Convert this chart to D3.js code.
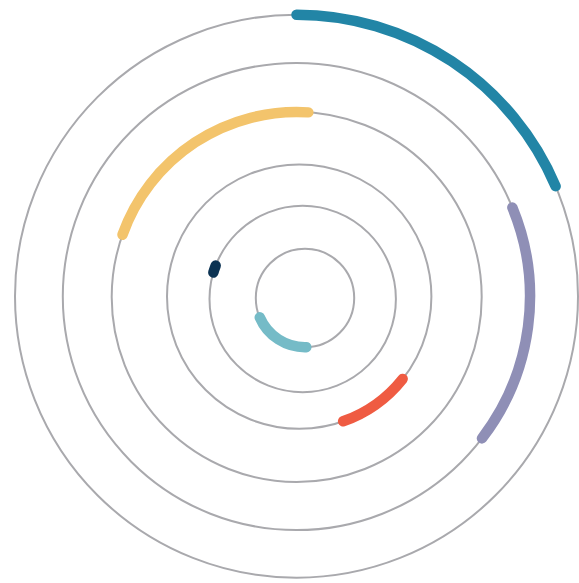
<!DOCTYPE html>
<html>
<head>
<meta charset="utf-8">
<script src="https://cdn.jsdelivr.net/npm/d3@7/dist/d3.min.js"></script>
<style>
  html, body { margin: 0; padding: 0; background: #ffffff; }
  svg { display: block; }
</style>
</head>
<body>
<script>
// ---- data ----
const rings = [1, 2, 3, 4, 5, 6];                       // concentric tracks, outermost first
const series = ["S1", "S2", "S3", "S4", "S5", "S6"];
const seriesRing = [1, 2, 4, 6, 5, 3];                  // track each series sits on
const startDeg = [0, 67.6, 128.5, 178.5, 286.5, 289.7];   // clockwise from 12 o'clock
const endDeg   = [67.0, 127.4, 160.6, 246.8, 291.0, 363.6];
const colors = ["#2285a6", "#8f8fb6", "#ef5b42", "#75bbc7", "#0c3353", "#f3c46c"];

// ---- layout (not data) ----
const W = 579, H = 583;
const ringGeom = {
  1: {cx: 296.5, cy: 296.2, r: 281.5},
  2: {cx: 296.4, cy: 296.5, r: 233.6},
  3: {cx: 296.7, cy: 297.0, r: 185.0},
  4: {cx: 299.2, cy: 296.6, r: 132.2},
  5: {cx: 302.7, cy: 299.0, r: 93.2},
  6: {cx: 305.0, cy: 298.0, r: 49.2}
};

const svg = d3.select("body").append("svg")
  .attr("width", W).attr("height", H);

const angle = d3.scaleLinear().domain([0, 360]).range([0, 2 * Math.PI]);

// track circles
svg.append("g").selectAll("circle")
  .data(rings)
  .join("circle")
  .attr("cx", d => ringGeom[d].cx)
  .attr("cy", d => ringGeom[d].cy)
  .attr("r", d => ringGeom[d].r)
  .attr("fill", "none")
  .attr("stroke", "#a9a9ad")
  .attr("stroke-width", 2);

// series arcs
const arcs = series.map((s, i) => ({
  name: s, ring: seriesRing[i], a0: startDeg[i], a1: endDeg[i], color: colors[i]
}));

function arcPath(d) {
  const g = ringGeom[d.ring];
  const p = d3.path();
  const a0 = angle(d.a0) - Math.PI / 2;
  const a1 = angle(d.a1) - Math.PI / 2;
  p.moveTo(g.cx + g.r * Math.cos(a0), g.cy + g.r * Math.sin(a0));
  p.arc(g.cx, g.cy, g.r, a0, a1, false);
  return p.toString();
}

svg.append("g").selectAll("path")
  .data(arcs)
  .join("path")
  .attr("d", arcPath)
  .attr("fill", "none")
  .attr("stroke", d => d.color)
  .attr("stroke-width", 10.5)
  .attr("stroke-linecap", "round");
</script>
</body>
</html>
